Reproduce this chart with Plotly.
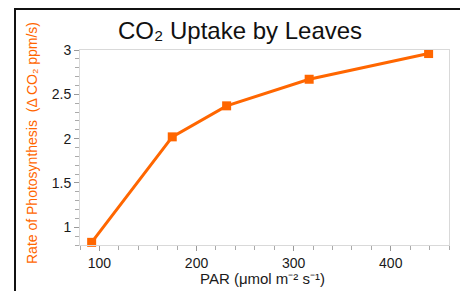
import plotly.graph_objects as go

par = [92, 175, 231, 316, 439]
rate = [0.83, 2.02, 2.37, 2.67, 2.96]
x_ticks = [100, 200, 300, 400]
y_ticks = [1, 1.5, 2, 2.5, 3]
y_tick_text = ["1", "1.5", "2", "2.5", "3"]

orange = "#FF6600"
font_family = "Liberation Sans, Arial, sans-serif"

fig = go.Figure()
fig.add_trace(go.Scatter(
    x=par, y=rate, mode="lines+markers",
    line=dict(color=orange, width=3),
    marker=dict(symbol="square", size=9, color=orange),
    showlegend=False, cliponaxis=False,
))

L, R, T, B = 80, 11, 50, 46
W, H = 460, 291
pw, ph = W - L - R, H - T - B

def px_x(p):
    return (p - L) / pw

def px_y(p):
    return 1 - (p - T) / ph

axis_common = dict(
    showgrid=False, zeroline=False, showline=True, mirror=True,
    linecolor="#d9d9d9", linewidth=1,
    ticks="outside", tickcolor="#999999", ticklen=5, tickwidth=1,
    tickfont=dict(family=font_family, size=14, color="#1a1a1a"),
)

fig.update_layout(
    width=W, height=H,
    margin=dict(l=L, r=R, t=T, b=B),
    paper_bgcolor="white", plot_bgcolor="white",
    xaxis=dict(range=[80, 460], tickvals=x_ticks,
               minor=dict(dtick=20, tick0=0, ticks="outside", ticklen=4, tickcolor="#aaaaaa"),
               **axis_common),
    yaxis=dict(range=[0.8, 3], tickvals=y_ticks, ticktext=y_tick_text,
               minor=dict(dtick=0.1, tick0=0, ticks="outside", ticklen=4, tickcolor="#aaaaaa"),
               **axis_common),
    annotations=[
        dict(text="CO₂ Uptake by Leaves", xref="paper", yref="paper",
             x=px_x(240), y=px_y(31), xanchor="center", yanchor="middle",
             showarrow=False, font=dict(family=font_family, size=24, color="#111111")),
        dict(text="PAR (μmol m⁻² s⁻¹)", xref="paper", yref="paper",
             x=px_x(262), y=px_y(278), xanchor="center", yanchor="middle",
             showarrow=False, font=dict(family=font_family, size=15, color="#1a1a1a")),
        dict(text="Rate of Photosynthesis  (Δ CO₂ ppm/s)", xref="paper", yref="paper",
             x=px_x(32), y=px_y(143), xanchor="center", yanchor="middle", textangle=-90,
             showarrow=False, font=dict(family=font_family, size=14, color=orange)),
    ],
    shapes=[
        dict(type="line", xref="paper", yref="paper", x0=px_x(15), x1=px_x(470),
             y0=px_y(9), y1=px_y(9), line=dict(color="#111111", width=2)),
        dict(type="line", xref="paper", yref="paper", x0=px_x(15), x1=px_x(15),
             y0=px_y(8), y1=px_y(300), line=dict(color="#111111", width=2)),
    ],
)

fig.write_html("out.html", config={"displayModeBar": False},
               post_script="document.body.style.margin='0';")
